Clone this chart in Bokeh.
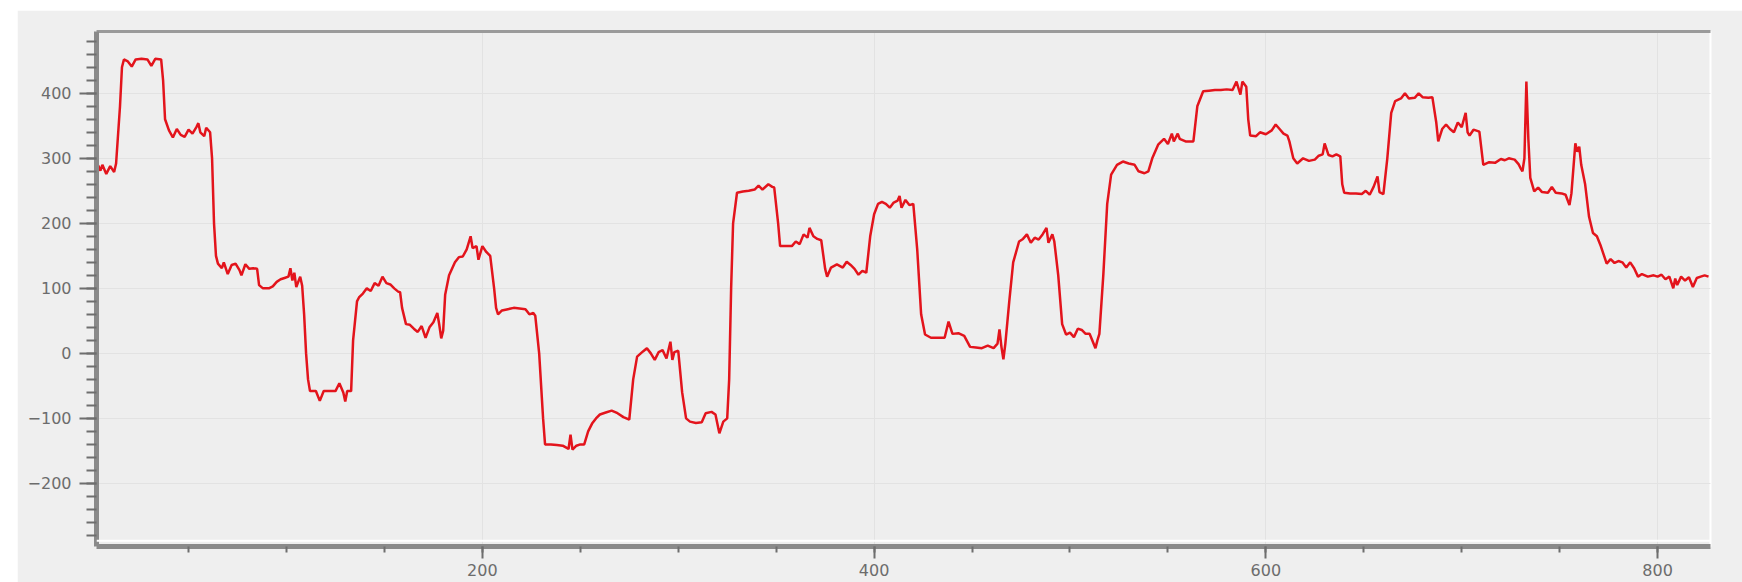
from bokeh.plotting import figure
from bokeh.models import (ColumnDataSource, LinearAxis, SingleIntervalTicker,
                          FixedTicker, Grid, Legend, LegendItem, Range1d, Span)
from bokeh.embed import file_html
from bokeh.resources import INLINE

# Sampled signal: sample index and measured value
sample_idx = [
    3, 4, 5, 6, 8, 10, 12, 13,
    15, 16, 17, 19, 21, 23, 26, 29, 31, 33, 36,
    37, 38, 40, 42, 44, 46, 48, 50, 52, 54, 55, 56, 58, 59, 61,
    62, 63, 64, 65, 67, 68, 70, 72, 74, 76, 77, 79, 81, 83, 85,
    86, 88, 91, 93, 95, 97, 99, 101, 102, 103, 104, 105, 107, 108,
    109, 110, 111, 112, 115, 117, 119, 122, 125, 127, 129, 130, 131, 133,
    134, 136, 137, 139, 141, 143, 145, 147, 149, 151, 153, 155, 157, 158,
    159, 161, 163, 165, 167, 169, 171, 173, 175, 177, 178, 179, 180,
    181, 183, 186, 188, 190, 192, 194, 195, 197, 198, 200, 202, 204,
    206, 207, 208, 210, 213, 216, 219, 222, 224, 226, 227,
    229, 231, 232, 235, 238, 241, 244, 245, 246, 248, 250, 252,
    254, 256, 258, 260, 263, 266, 269, 272, 275,
    277, 279, 282, 284, 286, 288, 290, 292, 294, 296, 297, 298, 300,
    302, 304, 306, 309, 312, 314, 317, 319, 321, 323, 325,
    326, 327, 328, 330, 333, 336, 339, 341, 343, 346, 348, 349,
    351, 352, 355, 358, 360, 362, 364, 366, 367, 369, 371, 373,
    375, 376, 378, 381, 384, 386, 388, 390, 392, 394, 396,
    398, 400, 402, 404, 406, 408, 410, 412, 413, 414, 416, 418, 420,
    422, 424, 426, 429, 432, 436, 438, 440, 443, 446,
    449, 452, 455, 458, 461, 463, 464, 465, 466, 467,
    469, 471, 474, 476, 478, 480, 482, 484, 486, 488, 489, 491, 492,
    494, 496, 498, 500, 502, 504, 506, 508, 510, 511, 513, 514, 515,
    517, 519, 521, 524, 527, 530, 533, 535, 538, 540,
    542, 545, 548, 550, 552, 553, 555, 556, 559, 563,
    565, 568, 571, 574, 577, 580, 583, 585, 586, 587, 588, 590,
    591, 592, 595, 597, 600, 603, 605, 607, 609, 611, 612,
    614, 616, 619, 622, 625, 627, 629, 630, 632, 634, 636, 638,
    639, 640, 643, 646, 649, 651, 653, 655, 657, 658, 660,
    662, 664, 666, 669, 671, 673, 676, 678, 680, 683, 685,
    687, 688, 690, 692, 694, 696, 698, 700, 702, 703, 704, 706, 709,
    711, 714, 717, 720, 722, 724, 727, 729, 730, 731, 732,
    733, 734, 735, 737, 739, 741, 744, 746, 748, 751, 753, 755, 756,
    758, 759, 760, 761, 763, 765, 767, 769, 771, 774, 776, 778, 780, 782,
    784, 786, 788, 790,
    792, 795, 798, 800, 802, 804, 806, 808, 809, 810, 812, 814, 816, 818,
    820, 822, 824, 826,
]

signal = [
    292, 288, 281, 290, 276, 288, 279, 292,
    380, 440, 452, 449, 441, 452, 453, 452, 442, 453, 452,
    420, 360, 343, 332, 345, 336, 333, 344, 338, 348, 354, 340, 334, 347, 340,
    300, 200, 150, 138, 131, 140, 122, 136, 138, 128, 120, 137, 130, 131, 130,
    105, 100, 100, 103, 110, 114, 116, 118, 131, 112, 124, 102, 118, 104,
    60, 0, -40, -58, -58, -73, -58, -58, -58, -46, -60, -74, -58, -58,
    20, 80, 86, 92, 100, 96, 108, 104, 118, 108, 106, 100, 95, 94,
    70, 45, 44, 38, 33, 42, 24, 40, 48, 62, 44, 23, 35,
    90, 120, 140, 148, 149, 160, 180, 162, 165, 144, 165, 156, 150,
    100, 70, 60, 66, 68, 70, 69, 68, 60, 62, 58,
    0, -100, -140, -140, -141, -142, -147, -125, -148, -142, -140, -140,
    -120, -108, -100, -94, -91, -88, -92, -98, -102,
    -40, -5, 3, 8, 0, -10, 2, 5, -8, 18, -10, 2, 4,
    -60, -100, -105, -107, -106, -92, -90, -94, -123, -105, -100,
    -40, 100, 200, 247, 249, 250, 252, 258, 252, 260, 256, 255,
    200, 165, 165, 165, 172, 168, 183, 178, 193, 180, 176, 174,
    130, 118, 132, 137, 132, 141, 136, 130, 121, 127, 124,
    180, 214, 230, 233, 230, 224, 232, 235, 242, 224, 236, 228, 230,
    160, 60, 29, 24, 24, 24, 49, 30, 31, 27,
    10, 9, 8, 12, 8, 15, 37, 10, -9, 15,
    80, 140, 172, 176, 183, 170, 178, 175, 183, 193, 170, 183, 172,
    120, 45, 29, 32, 25, 38, 36, 30, 30, 23, 8, 20, 30,
    120, 230, 275, 290, 295, 292, 290, 280, 277, 280,
    300, 321, 330, 322, 338, 326, 338, 330, 326, 326,
    380, 403, 404, 405, 405, 406, 405, 418, 408, 398, 418, 410,
    360, 335, 334, 340, 337, 343, 352, 345, 338, 335, 326,
    300, 292, 300, 296, 298, 304, 306, 323, 305, 303, 306, 303,
    260, 247, 246, 246, 245, 250, 244, 256, 272, 248, 245,
    300, 370, 388, 392, 400, 392, 393, 400, 394, 393, 394,
    355, 326, 345, 352, 345, 340, 355, 348, 370, 340, 335, 344, 341,
    290, 294, 293, 299, 297, 300, 298, 291, 285, 280, 300,
    418, 330, 270, 249, 255, 248, 247, 256, 247, 246, 244, 228, 246,
    323, 310, 318, 290, 260, 210, 185, 180, 165, 138, 145, 139, 142, 140,
    132, 140, 131, 118,
    122, 118, 120, 118, 121, 114, 118, 100, 115, 105, 118, 112, 117, 102,
    116, 118, 120, 118,
]

series_name = "data"
x_ticks_major = 200
y_ticks_major = 100

X_LO, X_HI = 3, 827
Y_LO, Y_HI = -297, 495

AXIS_GREY = "#8a8a8a"
TICK_GREY = "#6e6e6e"
LABEL_GREY = "#6c6c6c"
PANEL_BG = "#efefef"

p = figure(
    width=1725, height=572,
    output_backend="svg", toolbar_location=None,
    x_range=Range1d(X_LO, X_HI), y_range=Range1d(Y_LO, Y_HI),
    x_axis_location=None, y_axis_location=None,
    min_border_left=79, min_border_right=32,
    min_border_top=21, min_border_bottom=36,
    background_fill_color="#eeeeee", border_fill_color=PANEL_BG,
    outline_line_color="white", outline_line_width=2,
)
p.margin = (10, 0, 0, 17)

# left value axis
yaxis = LinearAxis(
    ticker=SingleIntervalTicker(interval=y_ticks_major, num_minor_ticks=5),
    axis_line_color=AXIS_GREY, axis_line_width=5,
    major_tick_line_color=TICK_GREY, major_tick_line_width=2,
    major_tick_in=0, major_tick_out=17,
    minor_tick_line_color=TICK_GREY, minor_tick_line_width=2,
    minor_tick_in=0, minor_tick_out=10,
    major_label_standoff=8,
    major_label_text_font="DejaVu Sans", major_label_text_font_size="16px",
    major_label_text_color=LABEL_GREY,
)
p.add_layout(yaxis, "left")

xaxis = LinearAxis(
    ticker=SingleIntervalTicker(interval=x_ticks_major, num_minor_ticks=4),
    axis_line_color=AXIS_GREY, axis_line_width=5,
    major_tick_line_color=TICK_GREY, major_tick_line_width=2,
    major_tick_in=0, major_tick_out=12,
    minor_tick_line_color=TICK_GREY, minor_tick_line_width=2,
    minor_tick_in=0, minor_tick_out=6,
    major_label_standoff=5,
    major_label_text_font="DejaVu Sans", major_label_text_font_size="16px",
    major_label_text_color=LABEL_GREY,
)
p.add_layout(xaxis, "below")

# plain border line along the top of the frame
top = LinearAxis(
    ticker=FixedTicker(ticks=[]),
    axis_line_color="#9a9a9a", axis_line_width=3,
    major_tick_line_color=None, minor_tick_line_color=None,
    major_tick_in=0, major_tick_out=0, minor_tick_out=0,
    major_label_text_font_size="0px", major_label_standoff=0,
)
p.add_layout(top, "above")

p.add_layout(Grid(dimension=0, ticker=xaxis.ticker, grid_line_color="#e2e2e2", grid_line_width=1))
p.add_layout(Grid(dimension=1, ticker=yaxis.ticker, grid_line_color="#e2e2e2", grid_line_width=1))

# light rim that separates the plotting area from the bottom axis
p.add_layout(Span(location=Y_LO + 9, dimension="width",
                  line_color="white", line_width=2))

src = ColumnDataSource(dict(x=sample_idx, y=signal))
line = p.line("x", "y", source=src, line_color="#e3141c", line_width=2.5)

legend = Legend(
    items=[LegendItem(label=series_name, renderers=[line])],
    location=(1621, 488),
    padding=0, margin=0, spacing=0,
    glyph_width=18, glyph_height=20, label_standoff=5,
    background_fill_alpha=0, border_line_color=None,
    label_text_font="DejaVu Sans", label_text_font_size="14px",
    label_text_color="#444444",
)
p.add_layout(legend)

open("out.html", "w").write(file_html(p, INLINE))
